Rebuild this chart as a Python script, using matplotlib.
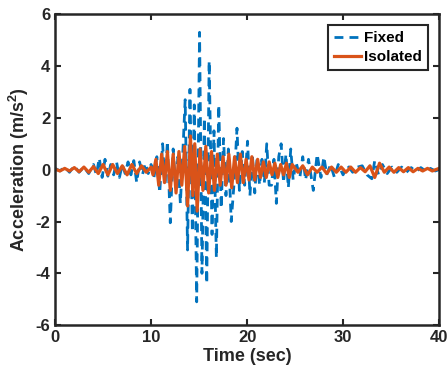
import numpy as np
import matplotlib
matplotlib.use("Agg")
import matplotlib.pyplot as plt

plt.rcParams["font.family"] = ["Liberation Sans", "DejaVu Sans"]
plt.rcParams["font.weight"] = "bold"
plt.rcParams["mathtext.fontset"] = "custom"
plt.rcParams["mathtext.bf"] = "Liberation Sans:bold"
plt.rcParams["mathtext.rm"] = "Liberation Sans:bold"
plt.rcParams["axes.unicode_minus"] = False

# Fixed base: peak values
fixed_t = [0.0, 0.5, 1.0, 1.5, 2.0, 2.5, 3.0, 3.5, 4.0, 4.3, 4.6, 4.9, 5.2, 5.5, 5.8,
           6.1, 6.4, 6.7, 7.0, 7.3, 7.6, 7.9, 8.2, 8.5, 8.8, 9.1, 9.4, 9.7, 10.0, 10.3,
           10.6, 10.9, 11.2, 11.45, 11.7, 12.0, 12.3, 12.55, 12.8, 13.05, 13.3, 13.55,
           13.8, 14.05, 14.3, 14.5, 14.75, 15.05, 15.3, 15.55, 15.8, 16.05, 16.35, 16.55,
           16.8, 17.05, 17.3, 17.55, 17.8, 18.05, 18.35, 18.65, 18.95, 19.2, 19.5, 19.75,
           20.05, 20.3, 20.55, 20.8, 21.05, 21.3, 21.55, 21.8, 22.05, 22.3, 22.55, 22.8,
           23.05, 23.3, 23.55, 23.8, 24.05, 24.3, 24.55, 24.8, 25.1, 25.5, 25.8, 26.1,
           26.4, 26.9, 27.3, 27.7, 28.0, 28.3, 28.7, 29.1, 29.5, 30.0, 30.5, 31.0, 31.5,
           32.0, 32.5, 33.0, 33.3, 33.7, 34.1, 34.6, 35.1, 35.6, 36.1, 36.6, 37.1, 37.6,
           38.1, 38.6, 39.1, 39.6, 40.0]
fixed_a = [0.05, -0.05, 0.1, -0.1, 0.15, -0.1, 0.1, -0.15, 0.2, -0.2, 0.45, -0.3, 0.4,
           -0.25, 0.2, -0.2, 0.3, -0.3, 0.2, -0.15, 0.3, -0.2, 0.35, -0.5, 0.3, -0.2,
           0.25, -0.15, 0.2, -0.3, 0.5, -0.9, 1.0, -0.6, 1.1, -2.05, 0.8, -0.6, 0.5,
           -1.3, 0.6, 2.7, -3.1, 3.1, -2.4, 2.5, -5.1, 5.3, -4.0, 2.0, -4.4, 4.2, -2.5,
           1.5, -3.4, 2.5, -1.5, 1.2, -1.0, 0.8, -2.0, -0.5, 1.6, -0.8, 0.7, -0.6, 1.1,
           -1.0, 0.6, -0.9, 0.5, -0.6, 0.4, -0.5, 1.0, -0.6, -0.6, 0.4, -1.3, 0.5, 1.0,
           -0.5, 0.6, -0.7, 0.8, -0.4, 0.3, -0.3, 0.5, -0.4, 0.4, -0.8, 0.6, -0.3, 0.5,
           -0.2, 0.2, -0.3, 0.2, -0.2, 0.15, -0.1, 0.1, 0.15, -0.2, -0.35, 0.35, -0.2,
           0.2, -0.15, 0.1, -0.1, 0.1, -0.1, 0.08, -0.08, 0.08, -0.05, 0.05, -0.05, 0.0]

# Isolated base
iso_t = [0.0, 0.5, 1.0, 1.5, 2.0, 2.5, 3.0, 3.5, 4.0, 4.5, 5.0, 5.5, 6.0, 6.5, 7.0,
         7.5, 8.0, 8.5, 9.0, 9.5, 10.0,
         10.2, 10.5, 10.8, 11.1, 11.4, 11.7, 12.0, 12.3, 12.6, 12.9, 13.2, 13.5,
         13.8, 14.1, 14.35, 14.55, 14.8,
         15.1, 15.4, 15.7, 16.0, 16.3, 16.6, 16.9, 17.2, 17.5, 17.8, 18.1, 18.4, 18.7,
         19.0, 19.3, 19.6, 19.9, 20.2, 20.5, 20.8, 21.1, 21.4, 21.7, 22.0, 22.3, 22.6,
         22.9, 23.2, 23.5, 23.8, 24.1, 24.4, 24.7,
         25.3, 25.8, 26.3, 26.8, 27.3, 27.8, 28.3, 28.8, 29.3, 29.8, 30.3, 30.8, 31.3,
         31.8, 32.3, 32.8, 33.3, 33.8, 34.3, 34.8, 35.3, 35.8, 36.3, 36.8, 37.3, 37.8,
         38.3, 38.8, 39.3, 40.0]
iso_a = [0.02, -0.05, 0.05, -0.05, 0.08, -0.08, 0.1, -0.1, 0.12, -0.15, 0.2, -0.2,
         0.2, -0.15, 0.15, -0.2, 0.2, -0.15, 0.15, -0.1, 0.1,
         -0.2, 0.4, -0.6, 0.6, -0.5, 0.7, -0.8, 0.6, -0.9, 0.7, -0.6, 0.9,
         -1.4, 1.3, -1.0, 1.0, -1.6,
         0.8, -0.8, 0.9, -0.9, 0.7, -0.8, 0.6, -0.6, 0.5, -0.6, 0.6, -0.7, 0.5,
         -0.5, 0.6, -0.5, 0.4, -0.4, 0.5, -0.4, 0.4, -0.3, 0.3, -0.3, 0.3, -0.2,
         0.25, -0.3, 0.2, -0.2, 0.25, -0.3, 0.2,
         -0.1, 0.15, -0.2, 0.1, -0.1, 0.1, -0.15, 0.1, -0.1, 0.1, -0.1, 0.1, -0.1,
         0.08, -0.08, 0.15, -0.3, 0.25, -0.1, 0.1, -0.1, 0.08, -0.08, 0.08, -0.08,
         0.05, -0.05, 0.05, -0.05, 0.05]

assert len(fixed_t) == len(fixed_a), (len(fixed_t), len(fixed_a))
assert len(iso_t) == len(iso_a), (len(iso_t), len(iso_a))

x_ticks = [0, 10, 20, 30, 40]
y_ticks = [-6, -4, -2, 0, 2, 4, 6]

fig = plt.figure(figsize=(4.48, 3.83), dpi=100)
ax = fig.add_axes([0.123, 0.151, 0.857, 0.812])

ax.plot(fixed_t, fixed_a, color="#0072BD", ls=(0, (3.2, 2.2)), lw=2.0, label="Fixed")
ax.plot(iso_t, iso_a, color="#D95319", lw=2.3, label="Isolated")

ax.set_xlim(0, 40)
ax.set_ylim(-6, 6)
ax.set_xticks(x_ticks)
ax.set_yticks(y_ticks)
ax.tick_params(direction="in", length=4, width=1.5, labelsize=12, colors="#262626",
               top=True, right=True)
for s in ax.spines.values():
    s.set_linewidth(1.8)
    s.set_color("#262626")
ax.set_xlabel("Time (sec)", fontsize=13, fontweight="bold", color="#262626", labelpad=2)
ax.set_ylabel(r"Acceleration (m/s$^\mathbf{2}$)", fontsize=13, fontweight="bold",
              color="#262626", labelpad=3)

leg = ax.legend(loc="upper right", fontsize=11, handlelength=1.8, handletextpad=0.2,
                borderpad=0.4, labelspacing=0.35, fancybox=False, framealpha=1,
                borderaxespad=0.7)
leg.get_frame().set_edgecolor("#262626")
leg.get_frame().set_linewidth(1.5)

fig.savefig("out.png", dpi=100)
